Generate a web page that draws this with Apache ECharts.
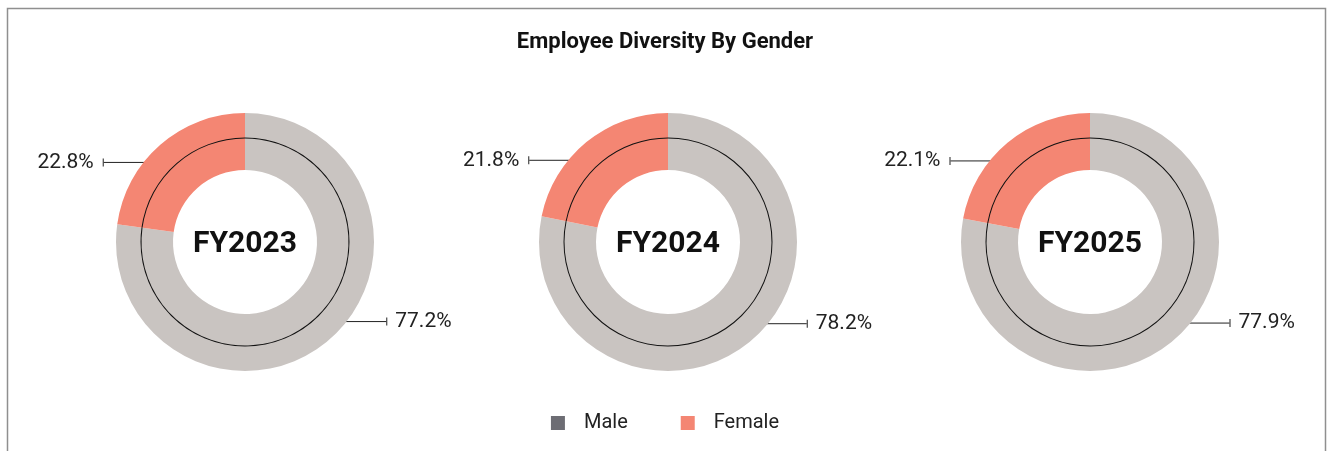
<!DOCTYPE html>
<html>
<head>
<meta charset="utf-8">
<script src="https://cdn.jsdelivr.net/npm/echarts@6/dist/echarts.min.js"></script>
<style>
  html, body { margin: 0; padding: 0; background: #fff; }
  #chart { width: 1330px; height: 451px; }
</style>
</head>
<body>
<div id="chart"></div>
<script>
// data
const years = ['FY2023', 'FY2024', 'FY2025'];
const genders = ['Male', 'Female'];
const maleShare = [77.2, 78.2, 77.9];
const femaleShare = [22.8, 21.8, 22.1];

const chart = echarts.init(document.getElementById('chart'));

const centersX = [245, 668, 1090];
const centerY = 242;
const sliceColors = { Male: '#c9c4c1', Female: '#f48673' };
const legendColors = { Male: '#6d6d74', Female: '#f48673' };

const series = [];
const titles = [{
  text: 'Employee Diversity By Gender',
  left: 'center',
  top: 26,
  textStyle: { fontFamily: 'Roboto', fontWeight: 'bold', fontSize: 22, color: '#111' }
}];

years.forEach((year, i) => {
  const data = [
    { name: genders[0], value: maleShare[i] },
    { name: genders[1], value: femaleShare[i] }
  ];
  // the donut itself
  series.push({
    type: 'pie',
    center: [centersX[i], centerY],
    radius: [72, 129],
    startAngle: 90,
    silent: true,
    label: { show: false },
    labelLine: { show: false },
    itemStyle: { color: p => sliceColors[p.name] },
    data: data
  });
  // thin black ring carrying the labels
  series.push({
    type: 'pie',
    center: [centersX[i], centerY],
    radius: [103.5, 104.5],
    startAngle: 90,
    silent: true,
    itemStyle: { color: '#111' },
    label: {
      show: true,
      distanceToLabelLine: 0,
      formatter: p => p.name === 'Female'
        ? `{vl|${p.value.toFixed(1)}%}{t|}`
        : `{t|}{vr|${p.value.toFixed(1)}%}`,
      rich: {
        vl: { fontFamily: 'Roboto', fontSize: 21, color: '#222', padding: [0, 9, 0, 0] },
        vr: { fontFamily: 'Roboto', fontSize: 21, color: '#222', padding: [0, 0, 0, 8] },
        t: { width: 1, height: 8, backgroundColor: '#222' }
      }
    },
    labelLine: {
      show: true,
      length: 1,
      length2: 72,
      lineStyle: { color: '#222', width: 1 }
    },
    data: data
  });
  titles.push({
    text: year,
    left: centersX[i],
    top: centerY + 2,
    padding: 0,
    textAlign: 'center',
    textVerticalAlign: 'middle',
    textStyle: { fontFamily: 'Roboto', fontWeight: 'bold', fontSize: 30, color: '#111' }
  });
});

const option = {
  animation: false,
  title: titles,
  legend: {
    bottom: 13,
    left: 'center',
    itemWidth: 14,
    itemHeight: 14,
    itemGap: 53,
    icon: 'rect',
    textStyle: { fontFamily: 'Roboto', fontSize: 20, color: '#222', padding: [0, 0, 0, 14] },
    data: genders.map(g => ({ name: g, itemStyle: { color: legendColors[g] } }))
  },
  graphic: [{
    type: 'rect',
    shape: { x: 7.5, y: 8.5, width: 1318, height: 470 },
    style: { fill: 'none', stroke: '#8f8f8f', lineWidth: 1.5 },
    silent: true
  }],
  series: series
};

chart.setOption(option);
</script>
</body>
</html>
